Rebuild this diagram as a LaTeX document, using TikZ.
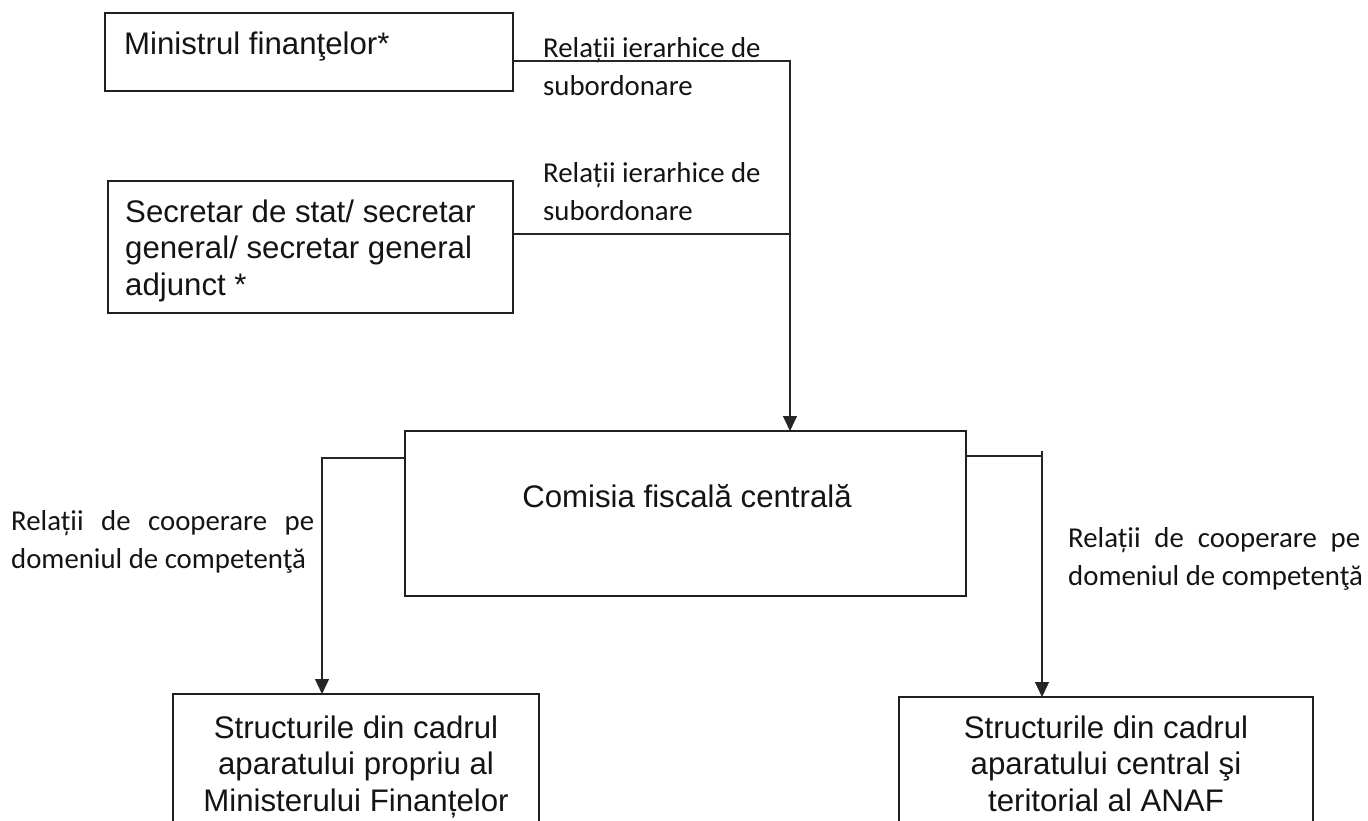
\documentclass[tikz,border=0pt]{standalone}
\usepackage{fontspec}
\setmainfont{Liberation Sans}
\newfontfamily\calib{Carlito}
\usetikzlibrary{arrows.meta}
\newcommand\stackL[1]{\vtop{\halign{##\hfil\cr#1\crcr}}}
\newcommand\stackC[1]{\vtop{\halign{\hfil##\hfil\cr#1\crcr}}}
\newcommand\justtwo[3]{\vtop{\hbox to #1{#2}\hbox{#3}}}
\newcommand\boxfont{\fontsize{31.2}{36.5}\selectfont}
\newcommand\labfont{\calib\fontsize{28.8}{38}\selectfont}
\begin{document}
\begin{tikzpicture}[x=1pt,y=-1pt,
 orgbox/.style={draw=black!88, line width=1.7pt, inner sep=0pt, outer sep=0pt},
 boxtext/.style={inner sep=0pt, font=\boxfont, text=black!92},
 lab/.style={inner sep=0pt, font=\labfont, text=black!92},
 conn/.style={draw=black!85, line width=1.2pt},
 arr/.style={conn, -{Triangle[width=14pt,length=15pt]}},
]
\fill[white] (0,0) rectangle (1368,820);
\useasboundingbox (0,0) rectangle (1368,820);

% boxes
\node[orgbox, minimum width=408pt, minimum height=78pt] (m1) at (309,52) {};
\node[boxtext, anchor=base west] (m1t) at (124,54) {Ministrul finanţelor*};
\node[orgbox, minimum width=405pt, minimum height=132pt] (s2) at (310.5,247) {};
\node[boxtext, anchor=base west] (s2t) at (125,222) {\stackL{Secretar de stat/ secretar\cr general/ secretar general\cr adjunct *}};
\node[orgbox, minimum width=561pt, minimum height=165pt] (cf) at (685.5,513.5) {};
\node[boxtext, anchor=base] (cft) at (687,507) {Comisia fiscală centrală};
\node[orgbox, minimum width=366pt, minimum height=156pt] (bl) at (356,772) {};
\node[boxtext, anchor=base] (blt) at (356,738) {\stackC{Structurile din cadrul\cr aparatului propriu al\cr Ministerului Finanțelor}};
\node[orgbox, minimum width=414pt, minimum height=156pt] (br) at (1106,775) {};
\node[boxtext, anchor=base] (brt) at (1106,738) {\stackC{Structurile din cadrul\cr aparatului central şi\cr teritorial al ANAF}};

% labels
\node[lab, anchor=base west] (r1) at (543,57) {\stackL{Relații ierarhice de\cr subordonare}};
\node[lab, anchor=base west] (r2) at (543,182) {\stackL{Relații ierarhice de\cr subordonare}};
\node[lab, anchor=base west] (c1) at (11,530) {\justtwo{303pt}{Relații\hfill de\hfill cooperare\hfill pe}{domeniul de competenţă}};
\node[lab, anchor=base west] (c2) at (1068,547) {\justtwo{292pt}{Relații\hfill de\hfill cooperare\hfill pe}{domeniul de competenţă}};

% connectors
\coordinate (j1) at (790,61);
\coordinate (j2) at (790,234);
\draw[arr] (m1.east |- j1) -- (j1) -- (j1 |- cf.north);
\draw[conn] (s2.east |- j2) -- (j2);
\coordinate (j3) at (322,458);
\draw[arr] (cf.west |- j3) -- (j3) -- (j3 |- bl.north);
\coordinate (j4) at (1042,456);
\coordinate (j4t) at (1042,451);
\draw[conn] (cf.east |- j4) -- (j4);
\draw[arr] (j4t) -- (j4t |- br.north);
\end{tikzpicture}
\end{document}
